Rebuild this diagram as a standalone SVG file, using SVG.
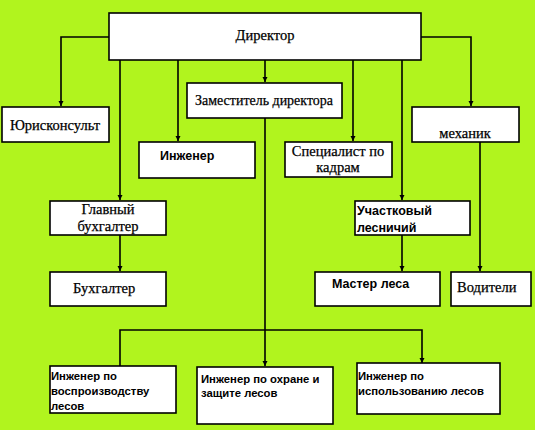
<svg xmlns="http://www.w3.org/2000/svg" width="535" height="430" viewBox="0 0 535 430">
<defs>
<marker id="ah" viewBox="0 0 10 10" refX="10" refY="5" markerWidth="5" markerHeight="6" orient="auto" markerUnits="userSpaceOnUse">
<path d="M0,0 L10,5 L0,10 z" fill="#000"/>
</marker>
<style>
.box{fill:#fff;stroke:#000;stroke-width:1.6}
.c{fill:none;stroke:#000;stroke-width:1.6}
.s{font-family:"Liberation Serif","Times New Roman",serif;font-size:14.5px;fill:#000;stroke:#000;stroke-width:0.25}
.b{font-family:"Liberation Sans",Arial,sans-serif;font-weight:bold;font-size:12.5px;fill:#000}
.bs{font-family:"Liberation Sans",Arial,sans-serif;font-weight:bold;font-size:11.3px;fill:#000}
.m{text-anchor:middle}
</style>
</defs>
<rect x="0" y="0" width="535" height="430" fill="#b1f41e"/>
<g id="connectors">
<path class="c" d="M109,37 H61 V106" marker-end="url(#ah)"/>
<path class="c" d="M421,37 H471 V106" marker-end="url(#ah)"/>
<path class="c" d="M120,60 V200" marker-end="url(#ah)"/>
<path class="c" d="M178,60 V141" marker-end="url(#ah)"/>
<path class="c" d="M265,60 V82" marker-end="url(#ah)"/>
<path class="c" d="M353,60 V141" marker-end="url(#ah)"/>
<path class="c" d="M402,60 V200" marker-end="url(#ah)"/>
<path class="c" d="M120,235 V271" marker-end="url(#ah)"/>
<path class="c" d="M402,235 V271" marker-end="url(#ah)"/>
<path class="c" d="M480,142 V271" marker-end="url(#ah)"/>
<path class="c" d="M265,118 V366" marker-end="url(#ah)"/>
<path class="c" d="M120,366 V330 H422 V363" marker-end="url(#ah)"/>
</g>
<g id="director"><rect class="box" x="109" y="13" width="312" height="47"/><text class="s m" x="265" y="40">Директор</text></g>
<g id="deputy"><rect class="box" x="187" y="83" width="155" height="35"/><text class="s m" x="264" y="105" textLength="138" lengthAdjust="spacingAndGlyphs">Заместитель директора</text></g>
<g id="lawyer"><rect class="box" x="2" y="107" width="107" height="35"/><text class="s m" x="55" y="130">Юрисконсульт</text></g>
<g id="mechanic"><rect class="box" x="412" y="107" width="107" height="35"/><text class="s m" x="465" y="138">механик</text></g>
<g id="engineer"><rect class="box" x="139" y="142" width="116" height="36"/><text class="b" x="160" y="160">Инженер</text></g>
<g id="hr"><rect class="box" x="285" y="142" width="107" height="35"/><text class="s m" x="338" y="156">Специалист по</text><text class="s m" x="338" y="172">кадрам</text></g>
<g id="chief-accountant"><rect class="box" x="50" y="201" width="116" height="34"/><text class="s m" x="108" y="214">Главный</text><text class="s m" x="108" y="231">бухгалтер</text></g>
<g id="forester"><rect class="box" x="355" y="201" width="115" height="34"/><text class="b" x="357" y="215">Участковый</text><text class="b" x="357" y="232">лесничий</text></g>
<g id="accountant"><rect class="box" x="50" y="272" width="116" height="34"/><text class="s" x="73" y="293">Бухгалтер</text></g>
<g id="forest-master"><rect class="box" x="315" y="272" width="125" height="34"/><text class="b" x="332" y="288">Мастер леса</text></g>
<g id="drivers"><rect class="box" x="451" y="272" width="80" height="34"/><text class="s" x="457" y="292">Водители</text></g>
<g id="eng-reproduction"><rect class="box" x="50" y="366" width="126" height="47"/><text class="bs" x="51" y="380">Инженер по</text><text class="bs" x="51" y="395">воспроизводству</text><text class="bs" x="51" y="410">лесов</text></g>
<g id="eng-protection"><rect class="box" x="197" y="367" width="136" height="57"/><text class="bs" x="201" y="383">Инженер по охране и</text><text class="bs" x="201" y="397">защите лесов</text></g>
<g id="eng-usage"><rect class="box" x="357" y="363" width="143" height="51"/><text class="bs" x="358" y="380">Инженер по</text><text class="bs" x="358" y="395">использованию лесов</text></g>
</svg>
